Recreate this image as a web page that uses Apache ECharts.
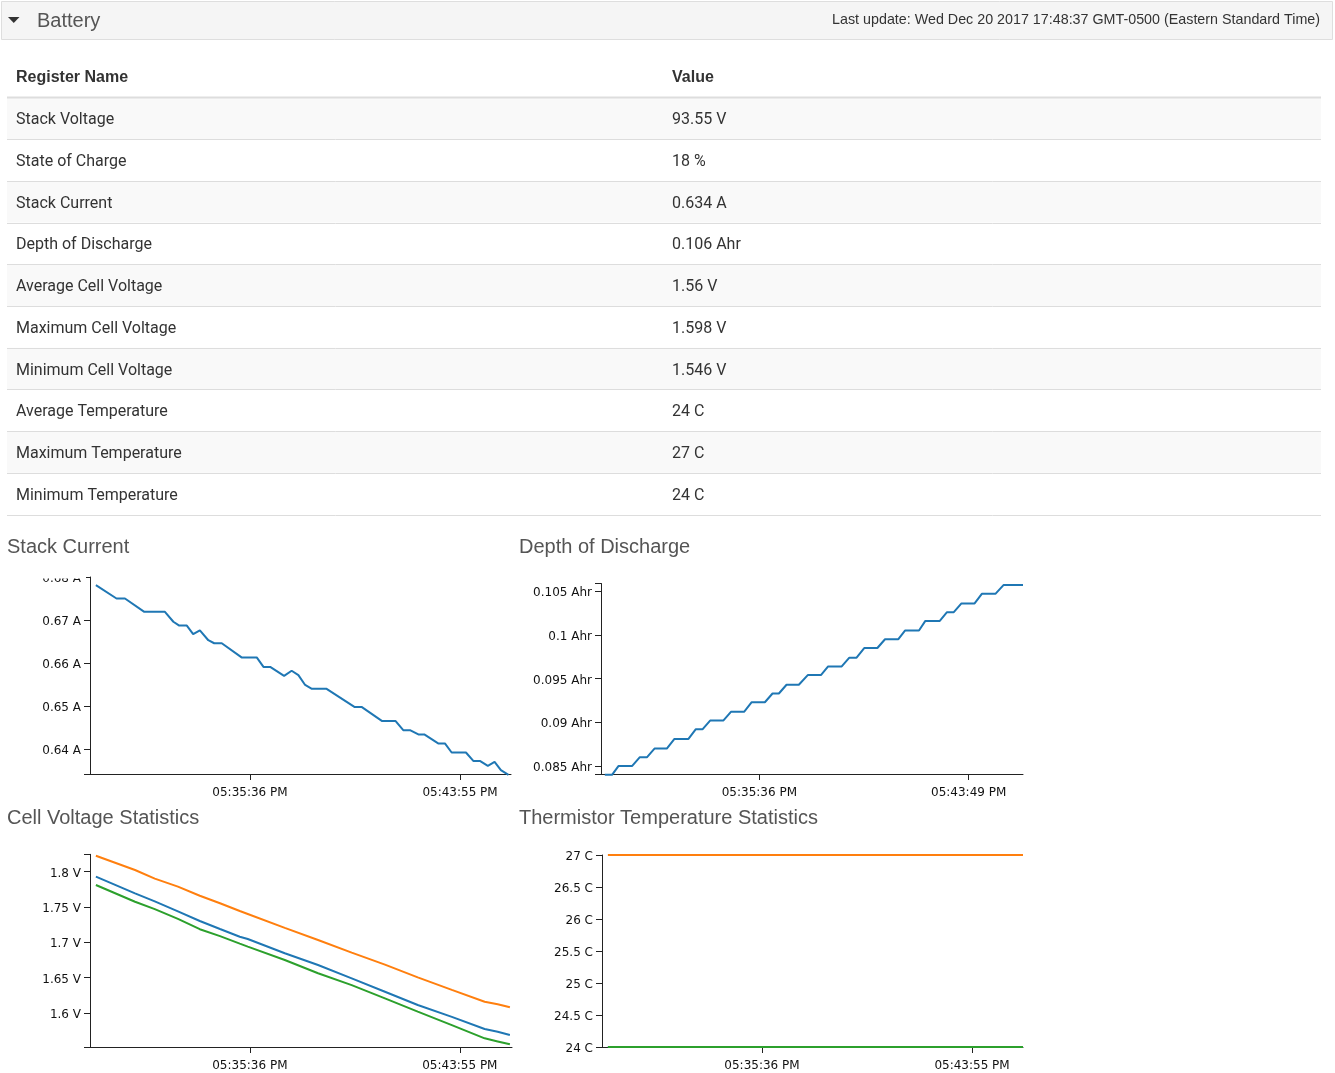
<!DOCTYPE html>
<html><head><meta charset="utf-8">
<script src="https://cdn.jsdelivr.net/npm/echarts@6/dist/echarts.min.js"></script>
<style>html,body{margin:0;padding:0;background:#fff}#main{width:1335px;height:1073px}</style>
</head><body><div id="main"></div>
<script>
// ---------- text content ----------
const headerTitle = 'Battery';
const lastUpdate = 'Last update: Wed Dec 20 2017 17:48:37 GMT-0500 (Eastern Standard Time)';
const tableHeaders = ['Register Name', 'Value'];
const registerNames = ['Stack Voltage','State of Charge','Stack Current','Depth of Discharge','Average Cell Voltage','Maximum Cell Voltage','Minimum Cell Voltage','Average Temperature','Maximum Temperature','Minimum Temperature'];
const registerValues = ['93.55 V','18 %','0.634 A','0.106 Ahr','1.56 V','1.598 V','1.546 V','24 C','27 C','24 C'];
const chartTitles = ['Stack Current','Depth of Discharge','Cell Voltage Statistics','Thermistor Temperature Statistics'];

// ---------- Stack Current ----------
const currentTimes = ['17:29:30','17:30:19','17:30:39','17:31:25','17:32:14','17:32:34','17:32:48','17:33:06','17:33:21','17:33:37','17:33:57','17:34:11','17:34:29','17:35:16','17:35:52','17:36:08','17:36:24','17:36:57','17:37:15','17:37:31','17:37:47','17:38:03','17:38:38','17:39:44','17:40:01','17:40:50','17:41:22','17:41:40','17:41:56','17:42:16','17:42:30','17:43:03','17:43:19','17:43:35','17:44:09','17:44:27','17:44:43','17:45:01','17:45:17','17:45:32','17:45:50'];
const currentValues = [0.6781,0.6750,0.6750,0.6719,0.6719,0.6696,0.6687,0.6687,0.6667,0.6676,0.6653,0.6646,0.6646,0.6613,0.6613,0.6591,0.6591,0.6570,0.6582,0.6572,0.6549,0.6540,0.6540,0.6498,0.6498,0.6465,0.6465,0.6444,0.6444,0.6434,0.6434,0.6413,0.6413,0.6392,0.6392,0.6372,0.6372,0.6361,0.6370,0.6351,0.6340];
const currentTickTimes = ['17:35:36','17:43:55'];
const currentTicks = [0.64,0.65,0.66,0.67,0.68];

// ---------- Depth of Discharge ----------
const dodTimes = ['17:29:32','17:29:49','17:30:04','17:30:36','17:30:54','17:31:11','17:31:29','17:31:58','17:32:16','17:32:49','17:33:06','17:33:22','17:33:40','17:34:11','17:34:29','17:35:00','17:35:18','17:35:49','17:36:07','17:36:22','17:36:40','17:37:09','17:37:30','17:38:01','17:38:18','17:38:50','17:39:08','17:39:25','17:39:43','17:40:14','17:40:32','17:41:03','17:41:19','17:41:52','17:42:07','17:42:41','17:42:58','17:43:14','17:43:32','17:44:03','17:44:20','17:44:52','17:45:11','17:45:57'];
const dodValues = [0.0840,0.0840,0.0850,0.0850,0.0860,0.0860,0.0870,0.0870,0.0881,0.0881,0.0892,0.0892,0.0902,0.0902,0.0912,0.0912,0.0923,0.0923,0.0933,0.0933,0.0943,0.0943,0.0954,0.0954,0.0964,0.0964,0.0974,0.0974,0.0985,0.0985,0.0995,0.0995,0.1005,0.1005,0.1016,0.1016,0.1026,0.1026,0.1036,0.1036,0.1047,0.1047,0.1057,0.1057];
const dodTickTimes = ['17:35:36','17:43:49'];
const dodTicks = [0.085,0.09,0.095,0.1,0.105];

// ---------- Cell Voltage Statistics ----------
const voltTimes = ['17:29:30','17:31:03','17:31:50','17:32:45','17:33:37','17:34:25','17:35:12','17:35:31','17:36:59','17:38:18','17:39:38','17:40:57','17:42:15','17:43:36','17:44:54','17:45:25','17:45:54'];
const voltMax = [1.8226,1.8024,1.7902,1.7789,1.7660,1.7554,1.7443,1.7402,1.7204,1.7034,1.6855,1.6685,1.6505,1.6327,1.6160,1.6125,1.6081];
const voltAvg = [1.7929,1.7694,1.7579,1.7439,1.7302,1.7189,1.7080,1.7047,1.6845,1.6679,1.6490,1.6301,1.6113,1.5946,1.5774,1.5735,1.5689];
const voltMin = [1.7811,1.7575,1.7470,1.7332,1.7186,1.7088,1.6982,1.6940,1.6750,1.6563,1.6395,1.6208,1.6020,1.5829,1.5642,1.5598,1.5557];
const voltTickTimes = ['17:35:36','17:43:55'];
const voltTicks = [1.6,1.65,1.7,1.75,1.8];

// ---------- Thermistor Temperature Statistics ----------
const tempTimes = ['17:29:30','17:37:30','17:45:56'];
const tempMax = [27,27,27];
const tempAvg = [24,24,24];
const tempMin = [24,24,24];
const tempTickTimes = ['17:35:36','17:43:55'];
const tempTicks = [24,24.5,25,25.5,26,26.5,27];

// ---------- helpers ----------
function toSec(s){const p=s.split(':').map(Number);return p[0]*3600+p[1]*60+p[2];}
function pad(n){return (n<10?'0':'')+n;}
function fmtTime(v){v=Math.round(v);const h=Math.floor(v/3600),m=Math.floor(v%3600/60),s=v%60;let hh=h%12;if(hh===0)hh=12;return pad(hh)+':'+pad(m)+':'+pad(s)+' '+(h>=12?'PM':'AM');}
function num(v){return String(+v.toFixed(4));}
function pairs(ts,vs){return ts.map((t,i)=>[toSec(t),vs[i]]);}

const C_BLUE='#1f77b4',C_ORANGE='#ff7f0e',C_GREEN='#2ca02c';
const AX='#222';
const TICK_FONT='"DejaVu Sans"';

const grids=[
  {left:90,top:577,width:421,height:197},
  {left:601,top:583.5,width:422,height:190.5},
  {left:90,top:854.3,width:422,height:192.7},
  {left:602,top:855,width:421,height:192}
];
const xr=[[62956,63956],[62963,63957],[62956,63959],[62956,63956]];
const yr=[[0.6342,0.68],[0.08409,0.10588],[1.5519,1.8246],[24,27]];
const xt=[currentTickTimes,dodTickTimes,voltTickTimes,tempTickTimes];
const yt=[currentTicks,dodTicks,voltTicks,tempTicks];
const units=[' A',' Ahr',' V',' C'];

const xAxes=grids.map((g,i)=>{const tv=xt[i].map(toSec);return {
  type:'value',gridIndex:i,min:xr[i][0],max:xr[i][1],
  axisLine:{show:true,onZero:false,lineStyle:{color:AX,width:1}},
  axisTick:{show:true,length:6,customValues:tv,lineStyle:{color:AX,width:1}},
  axisLabel:{show:true,customValues:tv,formatter:fmtTime,color:'#111',fontSize:12,fontFamily:TICK_FONT,margin:13},
  splitLine:{show:false}
};});
const yAxes=grids.map((g,i)=>{const tv=[yr[i][0]].concat(yt[i]).concat([yr[i][1]]);return {
  type:'value',gridIndex:i,min:yr[i][0],max:yr[i][1],
  axisLine:{show:true,onZero:false,lineStyle:{color:AX,width:1}},
  axisTick:{show:true,length:6,customValues:tv,lineStyle:{color:AX,width:1}},
  axisLabel:{show:true,customValues:yt[i],formatter:(v)=>'{v|'+num(v)+units[i]+'}',margin:9,
    rich:{v:{color:'#111',fontSize:12,fontFamily:TICK_FONT,padding:[4,0,0,0]}}},
  splitLine:{show:false}
};});

function line(name,idx,data,color){return {name,type:'line',xAxisIndex:idx,yAxisIndex:idx,data,showSymbol:false,symbol:'none',clip:false,
  lineStyle:{color,width:2},itemStyle:{color},emphasis:{disabled:true},animation:false};}

const series=[
  line('Stack Current',0,pairs(currentTimes,currentValues),C_BLUE),
  line('Depth of Discharge',1,pairs(dodTimes,dodValues),C_BLUE),
  line('Max Cell Voltage',2,pairs(voltTimes,voltMax),C_ORANGE),
  line('Average Cell Voltage',2,pairs(voltTimes,voltAvg),C_BLUE),
  line('Min Cell Voltage',2,pairs(voltTimes,voltMin),C_GREEN),
  line('Max Temperature',3,pairs(tempTimes,tempMax),C_ORANGE),
  line('Average Temperature',3,pairs(tempTimes,tempAvg),C_BLUE),
  line('Min Temperature',3,pairs(tempTimes,tempMin),C_GREEN)
];

// ---------- page graphics (header + table + titles) ----------
const G=[];
G.push({type:'rect',shape:{x:1.5,y:1.5,width:1331,height:38},style:{fill:'#f5f5f5',stroke:'#dedede',lineWidth:1},z:1});
G.push({type:'polygon',shape:{points:[[8,17],[19.5,17],[13.75,23]]},style:{fill:'#333'},z:2});
G.push({type:'text',style:{text:headerTitle,x:37,y:21,font:'20px "Liberation Sans"',fill:'#555',verticalAlign:'middle',align:'left'},z:2});
G.push({type:'text',style:{text:lastUpdate,x:1320,y:20.5,font:'14.3px "Liberation Sans"',fill:'#333',verticalAlign:'middle',align:'right'},z:2});
const TX0=7,TX1=1321,ROW0=97.5,RH=41.7;
registerNames.forEach((n,i)=>{
  const y=ROW0+i*RH;
  if(i%2===0) G.push({type:'rect',shape:{x:TX0,y:y,width:TX1-TX0,height:RH},style:{fill:'#f9f9f9'},z:1});
});
G.push({type:'text',style:{text:tableHeaders[0],x:16,y:78,font:'bold 16px "Liberation Sans"',fill:'#333',verticalAlign:'middle'},z:2});
G.push({type:'text',style:{text:tableHeaders[1],x:672,y:78,font:'bold 16px "Liberation Sans"',fill:'#333',verticalAlign:'middle'},z:2});
G.push({type:'line',shape:{x1:TX0,y1:ROW0,x2:TX1,y2:ROW0},style:{stroke:'#ddd',lineWidth:2},z:3});
registerNames.forEach((n,i)=>{
  const yc=ROW0+i*RH+RH/2+2;
  G.push({type:'text',style:{text:n,x:16,y:yc,font:'16px Roboto',fill:'#333',verticalAlign:'middle'},z:2});
  G.push({type:'text',style:{text:registerValues[i],x:672,y:yc,font:'16px Roboto',fill:'#333',verticalAlign:'middle'},z:2});
  const yl=Math.round(ROW0+(i+1)*RH)+0.5;
  G.push({type:'line',shape:{x1:TX0,y1:yl,x2:TX1,y2:yl},style:{stroke:'#ddd',lineWidth:1},z:3});
});
const titlePos=[[7,547.5],[519,547.5],[7,818.5],[519,818.5]];
chartTitles.forEach((t,i)=>G.push({type:'text',style:{text:t,x:titlePos[i][0],y:titlePos[i][1],font:'20px "Liberation Sans"',fill:'#555',verticalAlign:'middle'},z:2}));
// top of the Stack Current drawing area clips its first label
G.push({type:'rect',shape:{x:20,y:558,width:66,height:20.5},style:{fill:'#fff'},z:100});

const chart=echarts.init(document.getElementById('main'),null,{renderer:'canvas'});
chart.setOption({
  animation:false,
  backgroundColor:'#fff',
  grid:grids.map(g=>Object.assign({containLabel:false,outerBoundsMode:'none'},g)),
  xAxis:xAxes,
  yAxis:yAxes,
  series:series,
  graphic:{elements:G}
});
</script>
</body></html>
